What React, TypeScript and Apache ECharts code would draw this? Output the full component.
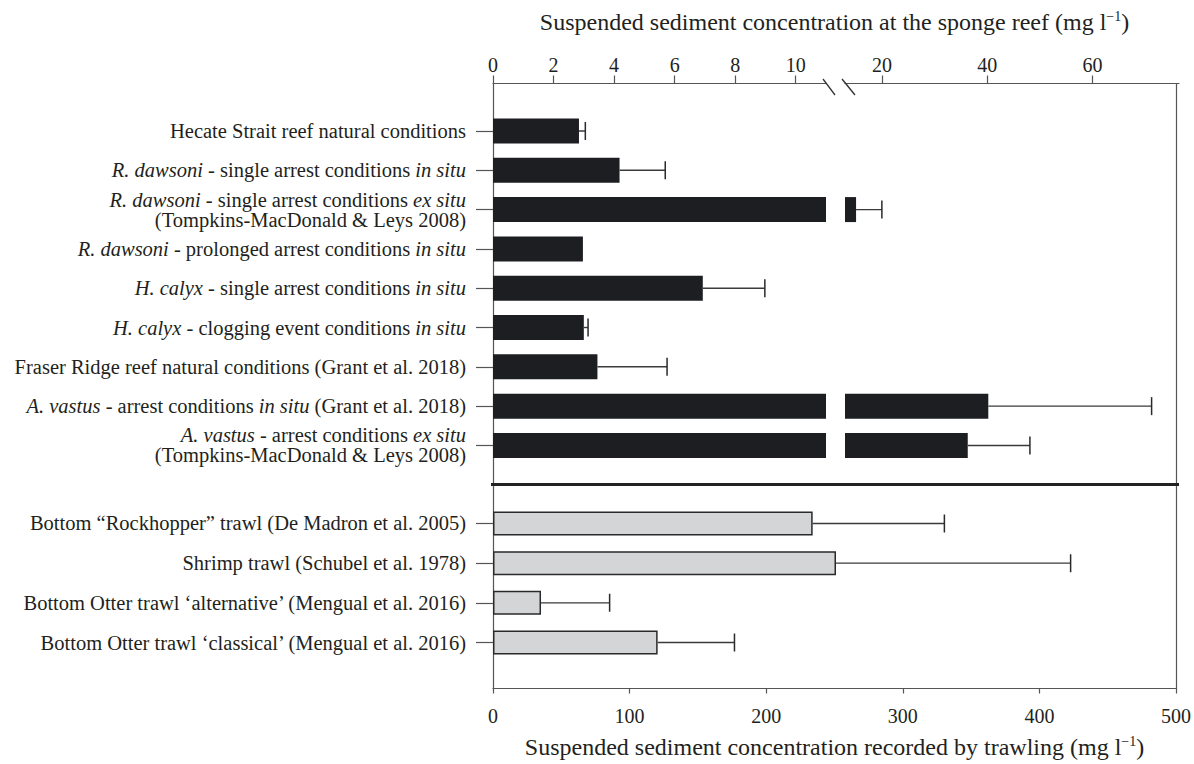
import React, { useEffect, useRef } from 'react';
import * as echarts from 'echarts';

// Sponge-reef conditions (upper panel, broken mg/l scale)
const upperCategories = [
  'Hecate Strait reef natural conditions',
  'R. dawsoni - single arrest conditions in situ',
  'R. dawsoni - single arrest conditions ex situ\n(Tompkins-MacDonald & Leys 2008)',
  'R. dawsoni - prolonged arrest conditions in situ',
  'H. calyx - single arrest conditions in situ',
  'H. calyx - clogging event conditions in situ',
  'Fraser Ridge reef natural conditions (Grant et al. 2018)',
  'A. vastus - arrest conditions in situ (Grant et al. 2018)',
  'A. vastus - arrest conditions ex situ\n(Tompkins-MacDonald & Leys 2008)',
];
const upperMeans = [2.84, 4.18, 15.1, 2.97, 6.93, 3.0, 3.45, 40.2, 36.3];
const upperHighs: (number | null)[] = [3.05, 5.69, 20.0, null, 8.98, 3.14, 5.75, 71.2, 48.1];

// Trawling plumes (lower panel, mg/l)
const lowerCategories = [
  'Bottom \u201cRockhopper\u201d trawl (De Madron et al. 2005)',
  'Shrimp trawl (Schubel et al. 1978)',
  'Bottom Otter trawl \u2018alternative\u2019 (Mengual et al. 2016)',
  'Bottom Otter trawl \u2018classical\u2019 (Mengual et al. 2016)',
];
const lowerMeans = [233, 250, 35, 120];
const lowerHighs = [329, 421, 85, 176];

// Tick positions of the two halves of the broken top axis
const nearScaleTicks = [0, 2, 4, 6, 8, 10];
const farScaleTicks = [20, 40, 60];

const italicTerms = ['R. dawsoni', 'H. calyx', 'A. vastus', 'in situ', 'ex situ'];

const topTitle = 'Suspended sediment concentration at the sponge reef (mg l';
const bottomTitle = 'Suspended sediment concentration recorded by trawling (mg l';

const FONT = 'Liberation Serif';
const INK = '#231f20';
const AXIS = '#555555';

const escapeRe = (s: string) => s.replace(/[.*+?^${}()|[\]\\]/g, '\\$&');
const termPattern = new RegExp('(' + italicTerms.map(escapeRe).join('|') + ')', 'g');

function toRich(label: string): string {
  return label
    .split('\n')
    .map((line) =>
      line
        .split(termPattern)
        .filter((s) => s !== '')
        .map((s) => (italicTerms.includes(s) ? `{i|${s}}` : `{n|${s}}`))
        .join('')
    )
    .join('\n');
}

const labelRich = {
  n: { fontFamily: FONT, fontSize: 20.5, color: INK, lineHeight: 20 },
  i: { fontFamily: FONT, fontSize: 20.5, color: INK, lineHeight: 20, fontStyle: 'italic' },
};

const titleRich = {
  n: { fontFamily: FONT, fontSize: 24, color: INK, lineHeight: 26 },
  sup: { fontFamily: FONT, fontSize: 14, color: INK, lineHeight: 15, verticalAlign: 'top' },
};

function errorData(means: number[], highs: (number | null)[]) {
  const out: number[][] = [];
  means.forEach((m, i) => {
    const h = highs[i];
    if (h != null) out.push([m, h, i]);
  });
  return out;
}

const renderError = (_params: any, api: any) => {
  const row = api.value(2);
  const from = api.coord([api.value(0), row]);
  const to = api.coord([api.value(1), row]);
  const cap = 9;
  return {
    type: 'group',
    children: [
      {
        type: 'line',
        shape: { x1: from[0], y1: from[1], x2: to[0], y2: to[1] },
        style: { stroke: '#3a3a3a', lineWidth: 1.4 },
      },
      {
        type: 'line',
        shape: { x1: to[0], y1: to[1] - cap, x2: to[0], y2: to[1] + cap },
        style: { stroke: '#2a2a2a', lineWidth: 1.5 },
      },
    ],
  };
};

const GRID_LEFT = 493;
const GRID_RIGHT_EDGE = 1179;
const FRAME_TOP = 83.5;
const FRAME_BOTTOM = 690.5;
const UPPER_TOP = 111.3;
const UPPER_HEIGHT = 353.8;
const LOWER_TOP = 503.6;
const LOWER_HEIGHT = 158.8;
const BREAK_LEFT = 826;
const BREAK_RIGHT = 845;

export default function App() {
  const ref = useRef<HTMLDivElement>(null);

  useEffect(() => {
    document.body.style.margin = '0';
    if (!ref.current) return;
    const chart = echarts.init(ref.current, null, { renderer: 'svg' });

    const tickLabel = { fontFamily: FONT, fontSize: 20, color: INK };
    const axisLine = { show: true, onZero: false, lineStyle: { color: AXIS, width: 1.2 } };

    const option: any = {
      animation: false,
      backgroundColor: '#ffffff',
      grid: [
        // frame around both panels
        { left: GRID_LEFT, top: FRAME_TOP, width: GRID_RIGHT_EDGE - GRID_LEFT, height: FRAME_BOTTOM - FRAME_TOP },
        // upper panel, low range (0-11)
        { left: GRID_LEFT, top: UPPER_TOP, width: BREAK_LEFT - GRID_LEFT, height: UPPER_HEIGHT },
        // upper panel, high range after the break
        { left: BREAK_RIGHT, top: UPPER_TOP, width: GRID_RIGHT_EDGE - BREAK_RIGHT, height: UPPER_HEIGHT },
        // lower panel
        { left: GRID_LEFT, top: LOWER_TOP, width: GRID_RIGHT_EDGE - GRID_LEFT, height: LOWER_HEIGHT },
      ],
      xAxis: [
        {
          gridIndex: 0,
          type: 'value',
          position: 'bottom',
          min: 0,
          max: 500,
          interval: 100,
          axisLine,
          axisTick: { show: true, length: 5, lineStyle: { color: AXIS, width: 1.2 } },
          axisLabel: { ...tickLabel, margin: 17.5 },
          splitLine: { show: false },
          name: `{n|${bottomTitle}}{sup|\u22121}{n|)}`,
          nameLocation: 'middle',
          nameGap: 45.5,
          nameTextStyle: { rich: titleRich },
        },
        {
          gridIndex: 1,
          type: 'value',
          position: 'top',
          offset: UPPER_TOP - FRAME_TOP,
          min: 0,
          max: 11,
          axisLine,
          axisTick: { show: true, length: 8, customValues: nearScaleTicks, lineStyle: { color: AXIS, width: 1.2 } },
          axisLabel: { ...tickLabel, margin: 9, customValues: nearScaleTicks },
          splitLine: { show: false },
        },
        {
          gridIndex: 2,
          type: 'value',
          position: 'top',
          offset: UPPER_TOP - FRAME_TOP,
          min: 13,
          max: 76.4,
          axisLine,
          axisTick: { show: true, length: 8, customValues: farScaleTicks, lineStyle: { color: AXIS, width: 1.2 } },
          axisLabel: { ...tickLabel, margin: 9, customValues: farScaleTicks },
          splitLine: { show: false },
        },
        {
          gridIndex: 3,
          type: 'value',
          min: 0,
          max: 500,
          show: false,
        },
        {
          gridIndex: 0,
          type: 'value',
          position: 'top',
          min: 0,
          max: 1,
          axisLine: { show: false, onZero: false },
          axisTick: { show: false },
          axisLabel: { show: false },
          splitLine: { show: false },
          name: `{n|${topTitle}}{sup|\u22121}{n|)}`,
          nameLocation: 'middle',
          nameGap: 48.5,
          nameTextStyle: { rich: titleRich },
        },
      ],
      yAxis: [
        {
          gridIndex: 0,
          type: 'value',
          position: 'left',
          min: 0,
          max: 1,
          axisLine,
          axisTick: { show: false },
          axisLabel: { show: false },
          splitLine: { show: false },
        },
        {
          gridIndex: 0,
          type: 'value',
          position: 'right',
          min: 0,
          max: 1,
          axisLine,
          axisTick: { show: false },
          axisLabel: { show: false },
          splitLine: { show: false },
        },
        {
          gridIndex: 1,
          type: 'category',
          inverse: true,
          data: upperCategories,
          axisLine: { show: false, onZero: false },
          axisTick: { show: true, length: 17, alignWithLabel: true, lineStyle: { color: AXIS, width: 1.2 } },
          axisLabel: {
            margin: 27,
            interval: 0,
            formatter: (v: string) => toRich(v),
            rich: labelRich,
          },
        },
        {
          gridIndex: 2,
          type: 'category',
          inverse: true,
          data: upperCategories,
          show: false,
        },
        {
          gridIndex: 3,
          type: 'category',
          inverse: true,
          data: lowerCategories,
          axisLine: { show: false, onZero: false },
          axisTick: { show: true, length: 17, alignWithLabel: true, lineStyle: { color: AXIS, width: 1.2 } },
          axisLabel: {
            margin: 27,
            interval: 0,
            formatter: (v: string) => toRich(v),
            rich: labelRich,
          },
        },
      ],
      series: [
        {
          type: 'bar',
          xAxisIndex: 1,
          yAxisIndex: 2,
          data: upperMeans,
          barWidth: 25,
          clip: true,
          itemStyle: { color: '#1d1e21' },
        },
        {
          type: 'bar',
          xAxisIndex: 2,
          yAxisIndex: 3,
          data: upperMeans,
          barWidth: 25,
          clip: true,
          itemStyle: { color: '#1d1e21' },
        },
        {
          type: 'bar',
          xAxisIndex: 3,
          yAxisIndex: 4,
          data: lowerMeans,
          barWidth: 24,
          clip: true,
          itemStyle: { color: '#d4d5d7', borderColor: '#2a2a2a', borderWidth: 1.5 },
        },
        {
          type: 'custom',
          xAxisIndex: 1,
          yAxisIndex: 2,
          data: errorData(upperMeans, upperHighs),
          encode: { x: [0, 1], y: 2 },
          renderItem: renderError,
          clip: true,
          z: 3,
        },
        {
          type: 'custom',
          xAxisIndex: 2,
          yAxisIndex: 3,
          data: errorData(upperMeans, upperHighs),
          encode: { x: [0, 1], y: 2 },
          renderItem: renderError,
          clip: true,
          z: 3,
        },
        {
          type: 'custom',
          xAxisIndex: 3,
          yAxisIndex: 4,
          data: errorData(lowerMeans, lowerHighs),
          encode: { x: [0, 1], y: 2 },
          renderItem: renderError,
          clip: true,
          z: 3,
        },
      ],
      graphic: [
        // divider between the sponge-reef and trawling panels
        {
          type: 'line',
          shape: { x1: GRID_LEFT - 2, y1: 484.5, x2: GRID_RIGHT_EDGE, y2: 484.5 },
          style: { stroke: '#222222', lineWidth: 3 },
          z: 10,
        },
        // axis break marks
        {
          type: 'line',
          shape: { x1: 823, y1: 79, x2: 835, y2: 95 },
          style: { stroke: '#333333', lineWidth: 1.3 },
          z: 10,
        },
        {
          type: 'line',
          shape: { x1: 842, y1: 79, x2: 855, y2: 95 },
          style: { stroke: '#333333', lineWidth: 1.3 },
          z: 10,
        },
      ],
    };

    chart.setOption(option);
    return () => chart.dispose();
  }, []);

  return <div ref={ref} style={{ width: 1194, height: 764 }} />;
}
